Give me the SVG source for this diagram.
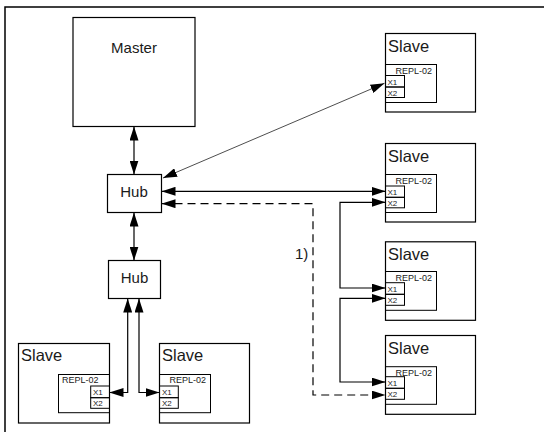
<svg xmlns="http://www.w3.org/2000/svg" width="544" height="432" viewBox="0 0 544 432">
<style>
.box{fill:#fff;stroke:#000;stroke-width:1.2}
.inner{fill:none;stroke:#000;stroke-width:1}
.lbl{font-family:"Liberation Sans",Arial,sans-serif;fill:#1a1a1a}
.big{font-size:15px}
.slv{font-size:16.5px}
.sm{font-size:9px}
.xs{font-size:8px}
.con{fill:none;stroke:#000;stroke-width:1.2;marker-start:url(#ah);marker-end:url(#ah)}
.thin{stroke-width:0.7}
.dash{stroke-dasharray:8 5}
</style>
<defs>
<marker id="ah" viewBox="0 0 14 9" refX="14" refY="4.5" markerWidth="14" markerHeight="9" markerUnits="userSpaceOnUse" orient="auto-start-reverse">
<path d="M0,0 L14,4.5 L0,9 z" fill="#000"/>
</marker>
</defs>
<g id="frame"><path d="M5,432 V7 H544" fill="none" stroke="#000" stroke-width="1.5"/></g>
<g id="master"><rect class="box" x="73" y="17.5" width="122" height="109"/><text class="lbl big" x="134" y="52.5" text-anchor="middle">Master</text></g>
<g id="hub1"><rect class="box" x="107.5" y="174.5" width="54" height="38"/><text class="lbl big" x="134" y="197" text-anchor="middle">Hub</text></g>
<g id="hub2"><rect class="box" x="108.5" y="260.5" width="52" height="38"/><text class="lbl big" x="134.5" y="283" text-anchor="middle">Hub</text></g>
<g id="slave1">
<rect class="box" x="385.5" y="33.5" width="90" height="78.5"/>
<text class="lbl slv" x="388" y="52">Slave</text>
<rect class="inner" x="385.5" y="64.5" width="51" height="38"/>
<text class="lbl sm" x="432" y="74" text-anchor="end">REPL-02</text>
<rect class="inner" x="385.5" y="75.5" width="19" height="11.5"/><rect class="inner" x="385.5" y="87" width="19" height="10.5"/>
<text class="lbl xs" x="387.5" y="84.5">X1</text><text class="lbl xs" x="387.5" y="95.5">X2</text>
</g>
<g id="slave2">
<rect class="box" x="385.5" y="143.5" width="90" height="78.5"/>
<text class="lbl slv" x="388" y="162">Slave</text>
<rect class="inner" x="385.5" y="174.5" width="51" height="38"/>
<text class="lbl sm" x="432" y="184" text-anchor="end">REPL-02</text>
<rect class="inner" x="385.5" y="186" width="19" height="11.3"/><rect class="inner" x="385.5" y="197.3" width="19" height="10.5"/>
<text class="lbl xs" x="387.5" y="195">X1</text><text class="lbl xs" x="387.5" y="205.8">X2</text>
</g>
<g id="slave3">
<rect class="box" x="385.5" y="241.8" width="90" height="78.5"/>
<text class="lbl slv" x="388" y="260">Slave</text>
<rect class="inner" x="385.5" y="271.5" width="51" height="38.8"/>
<text class="lbl sm" x="432" y="281" text-anchor="end">REPL-02</text>
<rect class="inner" x="385.5" y="282.7" width="19" height="11.6"/><rect class="inner" x="385.5" y="294.3" width="19" height="11"/>
<text class="lbl xs" x="387.5" y="291.5">X1</text><text class="lbl xs" x="387.5" y="303">X2</text>
</g>
<g id="slave4">
<rect class="box" x="385.5" y="335.5" width="90" height="78.8"/>
<text class="lbl slv" x="388" y="354">Slave</text>
<rect class="inner" x="385.5" y="366.7" width="51" height="37.6"/>
<text class="lbl sm" x="432" y="376" text-anchor="end">REPL-02</text>
<rect class="inner" x="385.5" y="376.7" width="19" height="11.6"/><rect class="inner" x="385.5" y="388.3" width="19" height="11"/>
<text class="lbl xs" x="387.5" y="386">X1</text><text class="lbl xs" x="387.5" y="397">X2</text>
</g>
<g id="slave5">
<rect class="box" x="18.5" y="343.5" width="91" height="79.5"/>
<text class="lbl slv" x="21" y="360.5">Slave</text>
<rect class="inner" x="58.5" y="374.5" width="51" height="38.2"/>
<text class="lbl sm" x="62" y="383">REPL-02</text>
<rect class="inner" x="90.7" y="386" width="18.8" height="11.7"/><rect class="inner" x="90.7" y="397.7" width="18.8" height="10.6"/>
<text class="lbl xs" x="93" y="395">X1</text><text class="lbl xs" x="93" y="405.8">X2</text>
</g>
<g id="slave6">
<rect class="box" x="159.5" y="343.5" width="90" height="79.5"/>
<text class="lbl slv" x="162" y="360.5">Slave</text>
<rect class="inner" x="159.5" y="374.5" width="51" height="38.2"/>
<text class="lbl sm" x="206" y="383" text-anchor="end">REPL-02</text>
<rect class="inner" x="159.5" y="386" width="18.8" height="11.7"/><rect class="inner" x="159.5" y="397.7" width="18.8" height="10.6"/>
<text class="lbl xs" x="162" y="395">X1</text><text class="lbl xs" x="162" y="405.8">X2</text>
</g>
<g id="connectors">
<path class="con" d="M134,126.5 V174.5"/>
<path class="con" d="M134,212.5 V260.5"/>
<path class="con thin" d="M163,178 L384.5,83.3"/>
<path class="con" d="M161.5,191.3 H385.5"/>
<path class="con dash" d="M161.5,203.7 H313 V395 H385.5"/>
<path class="con" d="M385.5,202.3 H340 V288 H385.5"/>
<path class="con" d="M385.5,298.3 H340 V382 H385.5"/>
<path class="con" d="M127.7,298.5 V392.5 H109.5"/>
<path class="con" d="M139,298.5 V392.5 H159.5"/>
<text class="lbl big" x="295" y="258.5">1)</text>
</g>
</svg>
